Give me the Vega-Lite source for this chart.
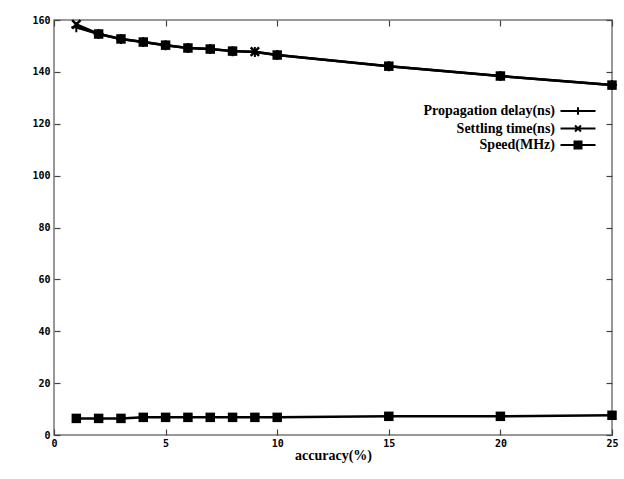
{
  "$schema": "https://vega.github.io/schema/vega-lite/v6.json",
  "autosize": "none",
  "width": 558,
  "height": 415,
  "padding": {"left": 54, "top": 20, "right": 12, "bottom": 44},
  "background": "white",
  "config": {
    "view": {"stroke": "#777", "strokeWidth": 1.5},
    "axis": {
      "grid": false,
      "domain": false,
      "tickColor": "#444",
      "tickSize": -6,
      "tickWidth": 1.2,
      "labelFont": "DejaVu Sans Mono",
      "labelFontWeight": "bold",
      "labelFontSize": 10,
      "labelColor": "black",
      "titleFont": "Liberation Serif",
      "titleFontWeight": "bold",
      "titleFontSize": 14,
      "titleColor": "black"
    }
  },
  "data": {
    "values": [
      {"acc": 1, "series": "Propagation delay(ns)", "value": 157.2},
      {"acc": 2, "series": "Propagation delay(ns)", "value": 154.6},
      {"acc": 3, "series": "Propagation delay(ns)", "value": 152.7},
      {"acc": 4, "series": "Propagation delay(ns)", "value": 151.5},
      {"acc": 5, "series": "Propagation delay(ns)", "value": 150.3},
      {"acc": 6, "series": "Propagation delay(ns)", "value": 149.2},
      {"acc": 7, "series": "Propagation delay(ns)", "value": 148.8},
      {"acc": 8, "series": "Propagation delay(ns)", "value": 148.0},
      {"acc": 9, "series": "Propagation delay(ns)", "value": 147.7},
      {"acc": 10, "series": "Propagation delay(ns)", "value": 146.5},
      {"acc": 15, "series": "Propagation delay(ns)", "value": 142.2},
      {"acc": 20, "series": "Propagation delay(ns)", "value": 138.4},
      {"acc": 25, "series": "Propagation delay(ns)", "value": 134.9},
      {"acc": 1, "series": "Settling time(ns)", "value": 158.3},
      {"acc": 2, "series": "Settling time(ns)", "value": 154.6},
      {"acc": 3, "series": "Settling time(ns)", "value": 152.7},
      {"acc": 4, "series": "Settling time(ns)", "value": 151.5},
      {"acc": 5, "series": "Settling time(ns)", "value": 150.3},
      {"acc": 6, "series": "Settling time(ns)", "value": 149.2},
      {"acc": 7, "series": "Settling time(ns)", "value": 148.8},
      {"acc": 8, "series": "Settling time(ns)", "value": 148.0},
      {"acc": 9, "series": "Settling time(ns)", "value": 147.8},
      {"acc": 10, "series": "Settling time(ns)", "value": 146.5},
      {"acc": 15, "series": "Settling time(ns)", "value": 142.2},
      {"acc": 20, "series": "Settling time(ns)", "value": 138.4},
      {"acc": 25, "series": "Settling time(ns)", "value": 134.9},
      {"acc": 1, "series": "Speed(MHz)", "value": 6.4},
      {"acc": 2, "series": "Speed(MHz)", "value": 6.4},
      {"acc": 3, "series": "Speed(MHz)", "value": 6.4},
      {"acc": 4, "series": "Speed(MHz)", "value": 6.8},
      {"acc": 5, "series": "Speed(MHz)", "value": 6.8},
      {"acc": 6, "series": "Speed(MHz)", "value": 6.8},
      {"acc": 7, "series": "Speed(MHz)", "value": 6.8},
      {"acc": 8, "series": "Speed(MHz)", "value": 6.8},
      {"acc": 9, "series": "Speed(MHz)", "value": 6.8},
      {"acc": 10, "series": "Speed(MHz)", "value": 6.8},
      {"acc": 15, "series": "Speed(MHz)", "value": 7.2},
      {"acc": 20, "series": "Speed(MHz)", "value": 7.2},
      {"acc": 25, "series": "Speed(MHz)", "value": 7.6}
    ]
  },
  "resolve": {"axis": {"x": "independent", "y": "independent"}},
  "layer": [
    {
      "mark": {"type": "line", "strokeWidth": 2.5, "clip": false},
      "encoding": {
        "x": {"field": "acc", "type": "quantitative", "scale": {"domain": [0, 25], "nice": false}, "axis": {"title": "accuracy(%)", "values": [0, 5, 10, 15, 20, 25], "labelPadding": 9, "titlePadding": 0, "labelFlush": false}},
        "y": {"field": "value", "type": "quantitative", "scale": {"domain": [0, 160], "nice": false}, "axis": {"title": null, "values": [0, 20, 40, 60, 80, 100, 120, 140, 160], "labelPadding": 10}},
        "color": {
          "field": "series", "type": "nominal",
          "scale": {"range": ["black", "black", "black"]},
          "legend": {
            "title": null,
            "orient": "none",
            "legendX": 516,
            "legendY": 83,
            "padding": 0,
            "rowPadding": 1.5,
            "symbolSize": 196,
            "symbolStrokeWidth": 2,
            "labelAlign": "right",
            "labelOffset": -31,
            "labelFont": "Liberation Serif",
            "labelFontWeight": "bold",
            "labelFontSize": 14,
            "labelColor": "black",
            "labelLimit": 300,
            "encode": {
              "symbols": {
                "update": {
                  "shape": {"signal": "datum.value === 'Speed(MHz)' ? 'M-2.5,0H2.5M-0.5,-0.5H0.5V0.5H-0.5Z' : (datum.value === 'Settling time(ns)' ? 'M-2.5,0H2.5M-0.42,-0.42L0.42,0.42M-0.42,0.42L0.42,-0.42' : 'M-2.5,0H2.5M0,-0.55V0.55')"},
                  "fill": {"value": "black"},
                  "stroke": {"value": "black"},
                  "strokeWidth": {"value": 2}
                }
              }
            }
          }
        }
      }
    },
    {
      "transform": [{"filter": "datum.series === 'Propagation delay(ns)'"}],
      "mark": {"type": "point", "shape": "M-1,0H1M0,-1V1", "filled": false, "stroke": "black", "strokeWidth": 2, "size": 100, "opacity": 1, "clip": false},
      "encoding": {
        "x": {"field": "acc", "type": "quantitative", "axis": {"orient": "top", "values": [0, 5, 10, 15, 20, 25], "labels": false, "title": null}},
        "y": {"field": "value", "type": "quantitative", "axis": {"orient": "right", "values": [0, 20, 40, 60, 80, 100, 120, 140, 160], "labels": false, "title": null}}
      }
    },
    {
      "transform": [{"filter": "datum.series === 'Settling time(ns)' && (datum.acc === 1 || datum.acc === 9)"}],
      "mark": {"type": "point", "shape": "M-1,-1L1,1M-1,1L1,-1", "filled": false, "stroke": "black", "strokeWidth": 2.5, "size": 70, "opacity": 1, "clip": false},
      "encoding": {
        "x": {"field": "acc", "type": "quantitative", "axis": null},
        "y": {"field": "value", "type": "quantitative", "axis": null}
      }
    },
    {
      "transform": [{"filter": "datum.series === 'Speed(MHz)' || (datum.series === 'Settling time(ns)' && datum.acc !== 1 && datum.acc !== 9)"}],
      "mark": {"type": "square", "filled": true, "color": "black", "size": 90, "opacity": 1, "clip": false},
      "encoding": {
        "x": {"field": "acc", "type": "quantitative", "axis": null},
        "y": {"field": "value", "type": "quantitative", "axis": null}
      }
    }
  ]
}
